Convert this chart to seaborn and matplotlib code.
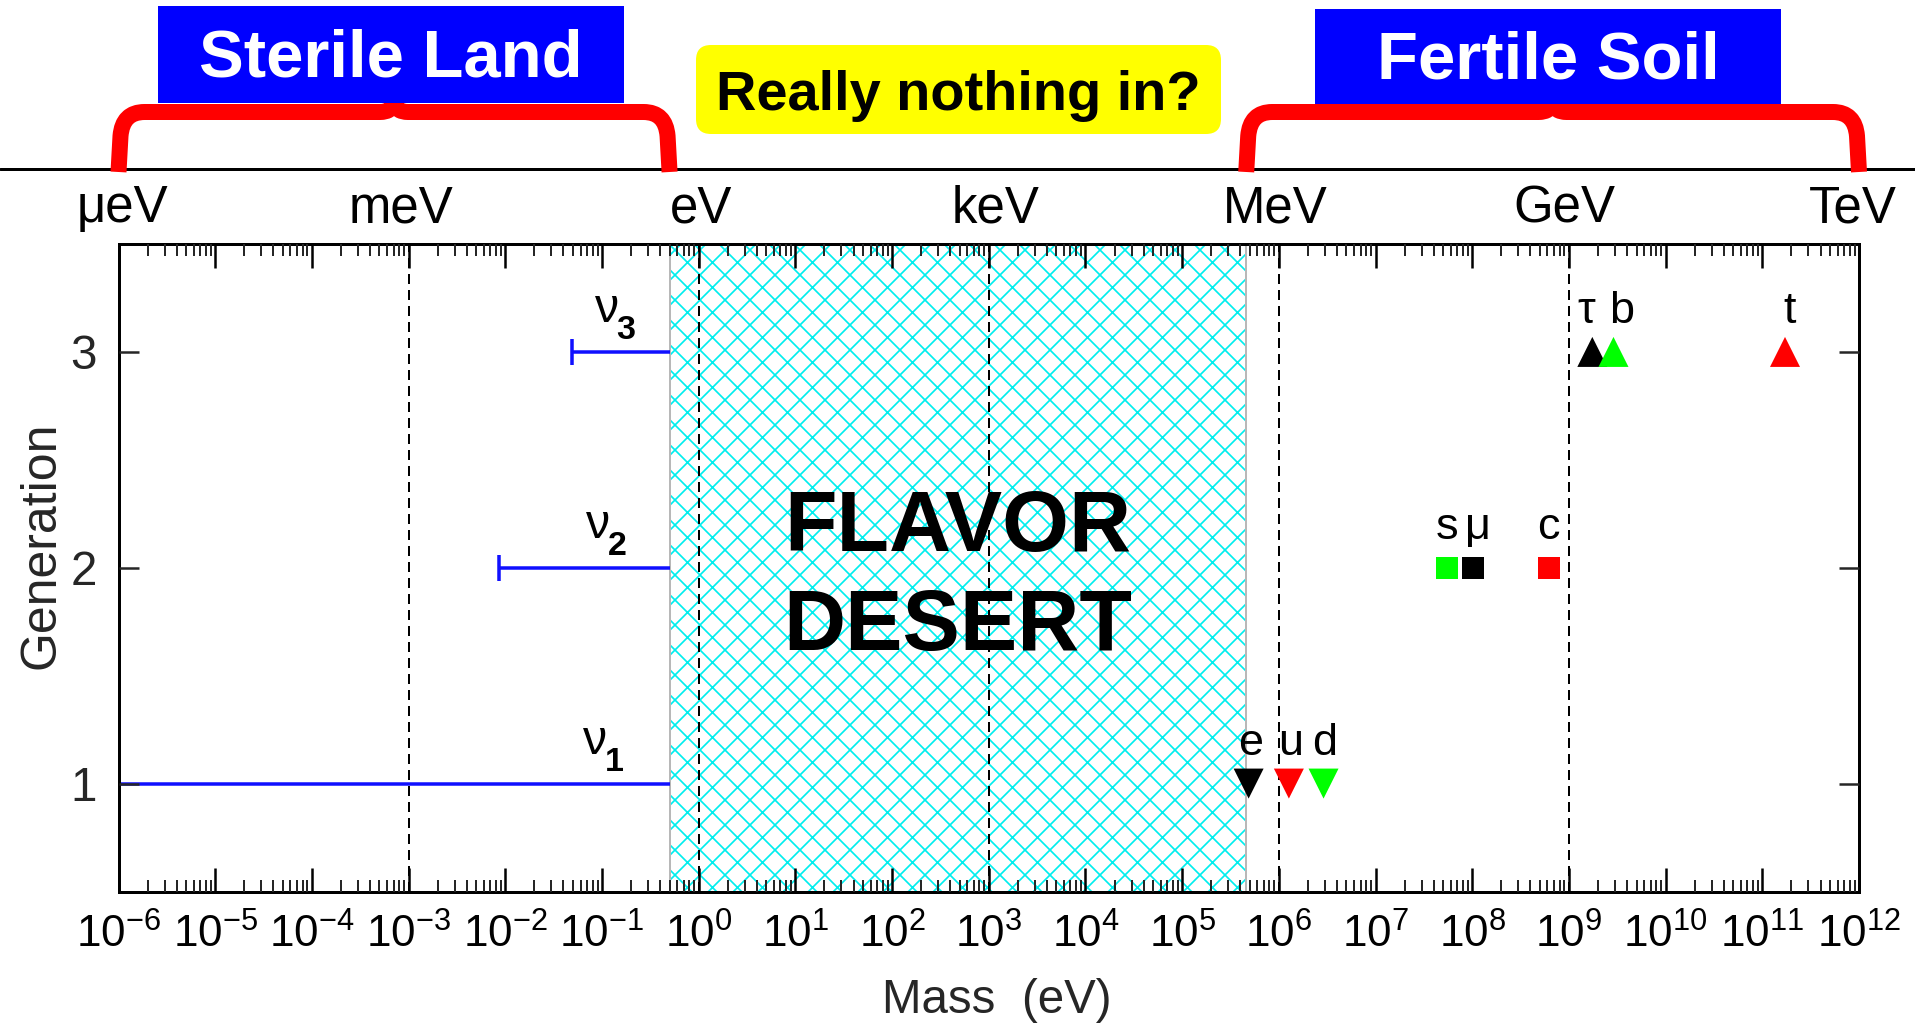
import numpy as np
import pandas as pd
import matplotlib
matplotlib.use("Agg")
import matplotlib.pyplot as plt
import seaborn as sns
import matplotlib.ticker as mticker
from matplotlib import font_manager as fm
from matplotlib.patches import FancyBboxPatch, Rectangle, PathPatch
from matplotlib.path import Path
from matplotlib.lines import Line2D
from matplotlib.transforms import IdentityTransform

# ---------------- data ----------------
particle_names = ["e", "u", "d", "s", "μ", "c", "τ", "b", "t"]
particle_mass = [4.87e5, 1.27e6, 2.90e6, 5.5e7, 1.027e8, 6.19e8, 1.746e9, 2.89e9, 1.717e11]
particle_gen = [1, 1, 1, 2, 2, 2, 3, 3, 3]
particle_color = ["black", "#ff0000", "#00ff00", "#00ff00", "black", "#ff0000", "black", "#00ff00", "#ff0000"]
particle_marker = ["v", "v", "v", "s", "s", "s", "^", "^", "^"]
particle_shape = ["tri", "tri", "tri", "sq", "sq", "sq", "tri", "tri", "tri"]
particle_label_shift_px = [2, 2, 1, 0, 5, 0, -6, 8, 5]

nu_names = ["1", "2", "3"]
nu_gen = [1, 2, 3]
nu_mass_low = [1.0e-6, 8.7e-3, 4.9e-2]
nu_mass_high = [0.5, 0.5, 0.5]
nu_cap = [False, True, True]
nu_label_x = [0.085, 0.091, 0.113]

desert_low, desert_high = 0.5, 4.6e5
dashed_masses = [1e-3, 1.0, 1e3, 1e6, 1e9]
unit_labels = ["μeV", "meV", "eV", "keV", "MeV", "GeV", "TeV"]
unit_masses = [1e-6, 1e-3, 1.0, 1e3, 1e6, 1e9, 1e12]
unit_shift_px = [4, -8, 2, 7, -4, -5, -6]
gen_ticks = [1, 2, 3]
x_range = (1e-6, 1e12)
y_range = (0.5, 3.5)

# ---------------- setup ----------------
W, H, DPI = 1915, 1028, 150


def pt(px):
    return px * 72.0 / DPI


sns.set_style("ticks")
names = {f.name for f in fm.fontManager.ttflist}
if "Liberation Sans Narrow" in names:
    NARROW = "Liberation Sans Narrow"
    NK = 1.08
else:
    NARROW = "Liberation Sans"
    NK = 0.88
plt.rcParams["font.family"] = [NARROW, "DejaVu Sans"]
plt.rcParams["mathtext.fontset"] = "custom"
plt.rcParams["mathtext.rm"] = NARROW
plt.rcParams["hatch.linewidth"] = pt(1.7)

fig = plt.figure(figsize=(W / DPI, H / DPI), dpi=DPI)
fig.patch.set_facecolor("white")
ax_l, ax_r, ax_t, ax_b = 118.5, 1859.0, 244.0, 891.5
ax = fig.add_axes([ax_l / W, 1 - ax_b / H, (ax_r - ax_l) / W, (ax_b - ax_t) / H])
ax.set_xscale("log")
ax.set_xlim(*x_range)
ax.set_ylim(*y_range)
ax.set_axisbelow(False)

# flavor desert (hatched)
ax.axvspan(desert_low, desert_high, facecolor="none", edgecolor="#00eeee", hatch="xx", lw=0, zorder=1)
for xv in (desert_low, desert_high):
    ax.axvline(xv, color="#b8b8b8", lw=pt(2), zorder=1.2)

# dashed decade lines
for xv in dashed_masses:
    ax.axvline(xv, color="black", lw=pt(2), ls=(0, (5, 3)), zorder=1.5)

# neutrinos
nu_blue = "#1010ff"
for lo, hi, g, cap, lab, lx in zip(nu_mass_low, nu_mass_high, nu_gen, nu_cap, nu_names, nu_label_x):
    ax.plot([lo, hi], [g, g], color=nu_blue, lw=pt(3.5), solid_capstyle="butt", zorder=2)
    if cap:
        ax.plot([lo], [g], marker="|", markersize=pt(26), mew=pt(3.5), color=nu_blue, zorder=2)
    ax.annotate("ν", xy=(lx, g), xytext=(0, pt(42)), textcoords="offset points",
                ha="center", va="center", fontsize=pt(48), color="black")
    ax.annotate(lab, xy=(lx, g), xytext=(pt(19), pt(21)), textcoords="offset points",
                ha="center", va="center", fontsize=pt(34), fontweight="bold", color="black")

# charged fermions via seaborn
df = pd.DataFrame({"name": particle_names, "mass": particle_mass, "gen": particle_gen,
                   "shape": particle_shape})
sns.scatterplot(data=df, x="mass", y="gen", hue="name",
                palette=dict(zip(particle_names, particle_color)),
                style="name", markers=dict(zip(particle_names, particle_marker)),
                size="shape", sizes={"tri": pt(30) ** 2, "sq": pt(22) ** 2},
                linewidth=0, legend=False, ax=ax, zorder=5)
for n, m, g, sh in zip(particle_names, particle_mass, particle_gen, particle_label_shift_px):
    ax.annotate(n, xy=(m, g), xytext=(pt(sh), pt(29)), textcoords="offset points",
                ha="center", va="baseline", fontsize=pt(45), color="black")

# FLAVOR DESERT label
ax.text(np.sqrt(desert_low * desert_high), 1.95, "FLAVOR\nDESERT", ha="center", va="center",
        fontsize=pt(86), fontweight="bold", color="black", linespacing=1.32, zorder=6,
        family=["Liberation Sans", "DejaVu Sans"])

# axes styling
for sp in ax.spines.values():
    sp.set_linewidth(pt(3))
    sp.set_color("black")
    sp.set_visible(True)
ax.xaxis.set_major_locator(mticker.LogLocator(base=10.0, numticks=40))
ax.xaxis.set_minor_locator(mticker.LogLocator(base=10.0, subs=np.arange(2, 10), numticks=400))
ax.xaxis.set_minor_formatter(mticker.NullFormatter())
ax.set_yticks(gen_ticks)
ax.set_yticklabels([str(g) for g in gen_ticks])
ax.tick_params(axis="x", which="major", direction="in", length=pt(24), width=pt(2.5),
               top=True, bottom=True, labelsize=pt(50 * NK), pad=pt(22), colors="black")
ax.tick_params(axis="x", which="minor", direction="in", length=pt(12), width=pt(2),
               top=True, bottom=True)
ax.tick_params(axis="y", which="major", direction="in", length=pt(20), width=pt(2.5),
               left=True, right=True, labelsize=pt(54 * NK), pad=pt(22))
ax.tick_params(axis="y", which="minor", left=False, right=False)

ax.set_xlabel("Mass  (eV)", fontsize=pt(54 * NK))
ax.xaxis.label.set_va("center")
ax.xaxis.set_label_coords(0.5045, -0.169)
ax.set_ylabel("Generation", fontsize=pt(50), family=["Liberation Sans", "DejaVu Sans"])
ax.yaxis.label.set_va("center")
ax.yaxis.set_label_coords(-0.0445, 0.534)

# ---------------- slide annotations ----------------
ID = IdentityTransform()
fig.canvas.draw()


def X(xd):
    return ax.transData.transform((xd, 1.0))[0]


# unit labels above the frame
for lab, xv, sh in zip(unit_labels, unit_masses, unit_shift_px):
    fig.text(X(xv) + sh, H - 209, lab, transform=ID, ha="center", va="center",
             fontsize=pt(58 * NK), color="black")

# top horizontal line
fig.add_artist(Line2D([0, W], [H - 168.5, H - 168.5], transform=ID, color="black", lw=pt(3)))


def bracket(x0d, x1d):
    X0, X1 = X(x0d), X(x1d)
    Xm = 0.5 * (X0 + X1)
    yb, yt = 172.0, 112.0
    pts = [(X0, yb), (X0 + 2, yt + 24), (X0 + 4, yt), (X0 + 26, yt),
           (Xm - 14, yt), (Xm - 2, yt), (Xm, yt - 9), (Xm + 2, yt), (Xm + 14, yt),
           (X1 - 26, yt), (X1 - 4, yt), (X1 - 2, yt + 24), (X1, yb)]
    codes = [Path.MOVETO, Path.LINETO, Path.CURVE3, Path.CURVE3,
             Path.LINETO, Path.CURVE3, Path.CURVE3, Path.CURVE3, Path.CURVE3,
             Path.LINETO, Path.CURVE3, Path.CURVE3, Path.LINETO]
    verts = [(px, H - py) for px, py in pts]
    fig.add_artist(PathPatch(Path(verts, codes), transform=ID, fill=False, edgecolor="#ff0000",
                             lw=pt(16), capstyle="butt", joinstyle="round", zorder=8))


bracket(x_range[0], desert_low)
bracket(desert_high, x_range[1])


def blue_box(x0, y0, x1, y1, text):
    fig.add_artist(Rectangle((x0, H - y1), x1 - x0, y1 - y0, transform=ID,
                             facecolor="#0000ff", edgecolor="none", zorder=10))
    fig.text(0.5 * (x0 + x1), H - 0.5 * (y0 + y1) - 5, text, transform=ID, ha="center", va="center",
             fontsize=pt(67), fontweight="bold", color="white",
             family=["Liberation Sans", "DejaVu Sans"], zorder=11)


blue_box(157.5, 6.0, 624.0, 102.6, "Sterile Land")
blue_box(1315.0, 8.5, 1781.0, 104.0, "Fertile Soil")

fig.add_artist(FancyBboxPatch((696, H - 134), 1221 - 696, 134 - 45, transform=ID,
                              boxstyle="round,pad=0,rounding_size=15",
                              facecolor="#ffff00", edgecolor="none", zorder=10))
fig.text(958.5, H - 95.5, "Really nothing in?", transform=ID, ha="center", va="center",
         fontsize=pt(56), fontweight="bold", color="black",
         family=["Liberation Sans", "DejaVu Sans"], zorder=11)

fig.savefig("out.png", dpi=DPI, facecolor="white")
